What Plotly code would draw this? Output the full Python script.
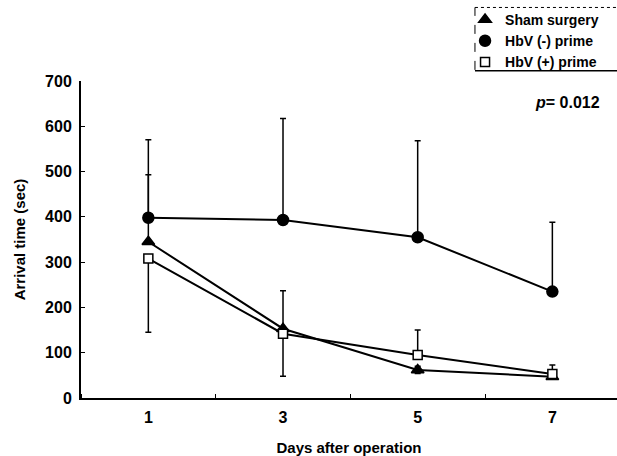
import plotly.graph_objects as go

days = [1, 3, 5, 7]
sham = [345, 153, 62, 47]
sham_up = [148, 84, 8, 0]
sham_dn = [0, 0, 8, 0]
hbv_neg = [398, 393, 355, 235]
hbv_neg_up = [172, 224, 213, 153]
hbv_neg_dn = [0, 0, 0, 0]
hbv_pos = [308, 142, 95, 53]
hbv_pos_up = [0, 0, 55, 20]
hbv_pos_dn = [163, 94, 0, 0]
y_ticks = [0, 100, 200, 300, 400, 500, 600, 700]

FONT = "Liberation Sans"
def f(size):
    return dict(family=FONT, size=size, color="black", weight="bold")

fig = go.Figure()

series = [
    ("Sham surgery", sham, sham_up, sham_dn, "triangle-up", "black", 11),
    ("HbV (-) prime", hbv_neg, hbv_neg_up, hbv_neg_dn, "circle", "black", 11),
    ("HbV (+) prime", hbv_pos, hbv_pos_up, hbv_pos_dn, "square", "white", 9),
]

for name, y, up, dn, sym, fill, size in series:
    fig.add_trace(go.Scatter(x=days, y=y, mode="lines", line=dict(color="black", width=2),
                             showlegend=False, hoverinfo="skip"))
for name, y, up, dn, sym, fill, size in series:
    fig.add_trace(go.Scatter(
        x=days, y=y, mode="markers", name=name,
        marker=dict(symbol=sym, color=fill, size=size, line=dict(color="black", width=1.5)),
        error_y=dict(type="data", symmetric=False, array=up, arrayminus=dn,
                     color="black", thickness=1.5, width=3),
    ))

fig.add_annotation(x=7.74, y=653, xref="x", yref="y", xanchor="right", yanchor="middle",
                   text="<i>p</i>= 0.012", showarrow=False, font=f(16))

# legend box (dashed left, dotted top, solid bottom)
fig.add_shape(type="line", xref="paper", yref="paper", x0=0.735, x1=0.735, y0=1.035, y1=1.232,
              line=dict(color="black", width=1, dash="dash"))
fig.add_shape(type="line", xref="paper", yref="paper", x0=0.735, x1=1.0, y0=1.232, y1=1.232,
              line=dict(color="black", width=1, dash="dot"))
fig.add_shape(type="line", xref="paper", yref="paper", x0=0.735, x1=1.0, y0=1.032, y1=1.032,
              line=dict(color="black", width=1.5))

fig.update_layout(
    width=617, height=456,
    margin=dict(l=81, r=0, t=81, b=58),
    paper_bgcolor="white", plot_bgcolor="white",
    font=f(15),
    legend=dict(x=0.7165, y=1.243, xanchor="left", yanchor="top",
                bgcolor="rgba(0,0,0,0)", font=f(14),
                tracegroupgap=0, itemwidth=30),
    xaxis=dict(range=[0, 7.96], tickvals=days, ticktext=[str(d) for d in days],
               ticks="", showgrid=False, zeroline=False, showline=True,
               linecolor="black", linewidth=2, automargin=False,
               tickfont=f(16), ticklabelstandoff=4,
               minor=dict(tick0=0, dtick=2, ticks="inside", ticklen=4, tickcolor="black", showgrid=False),
               title=dict(text="Days after operation", standoff=18, font=f(15))),
    yaxis=dict(range=[0, 700], tickvals=y_ticks,
               ticks="inside", ticklen=4, tickcolor="black",
               showgrid=False, zeroline=False, showline=True,
               linecolor="black", linewidth=2, automargin=False,
               tickfont=f(16), ticklabelstandoff=4,
               title=dict(text="Arrival time (sec)", standoff=16, font=f(15))),
)

fig.write_html("out.html", config={"displayModeBar": False},
               post_script="document.body.style.margin='0';document.body.style.overflow='hidden';")
